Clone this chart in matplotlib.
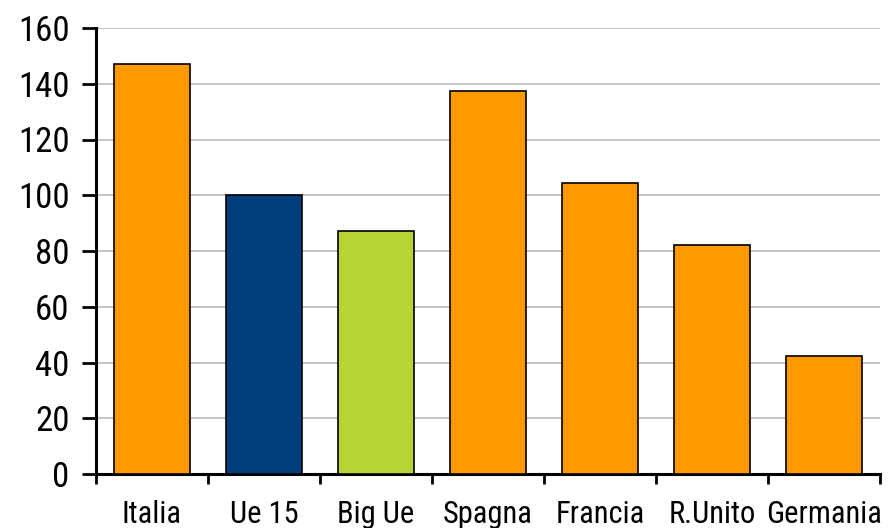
import matplotlib.pyplot as plt
from matplotlib import font_manager
import numpy as np

# Index values per country (Ue 15 = 100)
categories = ["Italia", "Ue 15", "Big Ue", "Spagna", "Francia", "R.Unito", "Germania"]
values = [147, 100, 87, 137.5, 104.5, 82, 42.5]
bar_colors = ["#FF9900", "#023E7D", "#B8D334", "#FF9900", "#FF9900", "#FF9900", "#FF9900"]

# pick a narrow sans if one is installed
available = {f.name for f in font_manager.fontManager.ttflist}
family = "DejaVu Sans"
for name in ["Liberation Sans Narrow", "Roboto Condensed", "Open Sans Condensed", "Liberation Sans"]:
    if name in available:
        family = name
        break
plt.rcParams["font.family"] = [family, "DejaVu Sans"]

fig = plt.figure(figsize=(8.9, 5.28), dpi=100)
ax = fig.add_axes([96 / 890, 1 - 474 / 528, 784 / 890, 446 / 528])

x = np.arange(len(categories))
ax.bar(x, values, width=0.67, color=bar_colors, edgecolor="black", linewidth=1.2, zorder=3)

ax.set_xlim(-0.5, len(categories) - 0.5)
ax.set_ylim(0, 160)
ax.set_yticks(np.arange(0, 161, 20))
ax.yaxis.grid(True, color="#C0C0C0", linewidth=1.3, zorder=0)

# category labels centred, tick marks on the boundaries
ax.set_xticks(x)
ax.set_xticklabels(categories)
ax.set_xticks(np.arange(-0.5, len(categories)), minor=True)
ax.tick_params(axis="x", which="major", length=0, pad=19, labelsize=22)
ax.tick_params(axis="x", which="minor", length=7, width=2, direction="out")
ax.tick_params(axis="y", length=10, width=2, direction="out", pad=9, labelsize=25)

for side in ["top", "right"]:
    ax.spines[side].set_visible(False)
for side in ["left", "bottom"]:
    ax.spines[side].set_linewidth(2.2)

fig.savefig("out.png", dpi=100)
